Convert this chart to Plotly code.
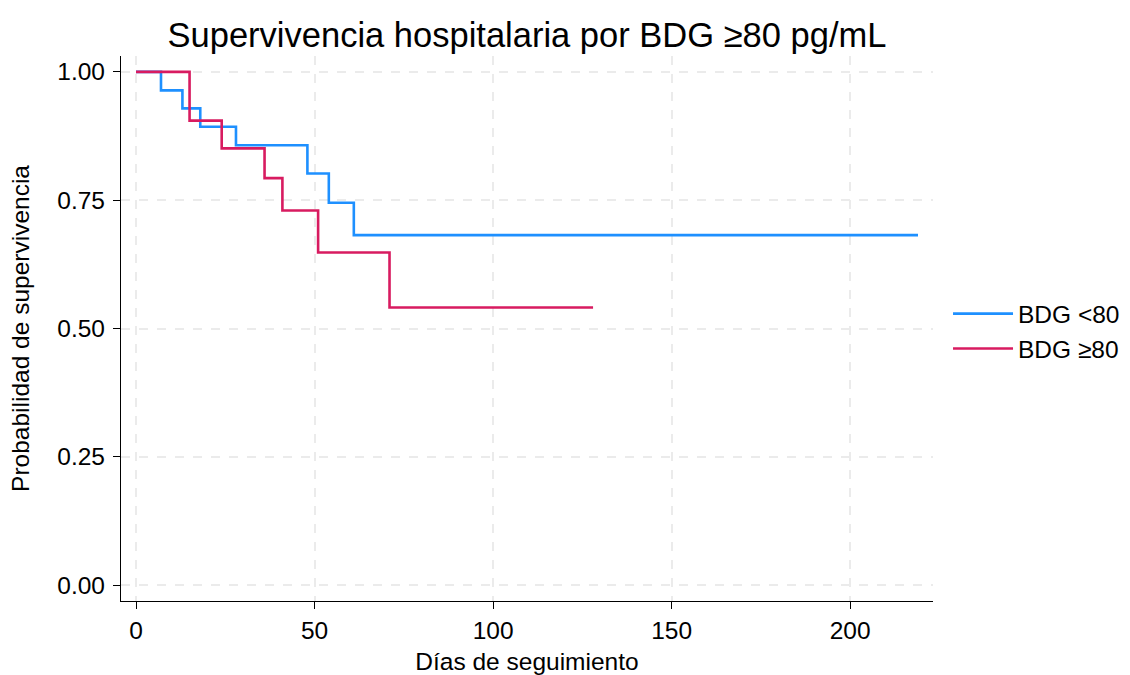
import plotly.graph_objects as go

# Kaplan-Meier step data
blue_name = "BDG <80"
blue_days = [0, 7, 13, 18, 28, 48, 54, 61, 219]
blue_surv = [1.000, 0.964, 0.929, 0.893, 0.857, 0.802, 0.745, 0.682, 0.682]

red_name = "BDG ≥80"
red_days = [0, 15, 24, 36, 41, 51, 71, 128]
red_surv = [1.000, 0.905, 0.851, 0.793, 0.730, 0.648, 0.541, 0.541]

x_ticks = [0, 50, 100, 150, 200]
y_ticks = [0.00, 0.25, 0.50, 0.75, 1.00]
y_tick_labels = ["0.00", "0.25", "0.50", "0.75", "1.00"]

FONT = "Liberation Sans, Arial, Helvetica, sans-serif"
TXT = 24.5

fig = go.Figure()
fig.add_trace(go.Scatter(x=blue_days, y=blue_surv, mode="lines", name=blue_name,
                         line=dict(color="#1E90FF", width=2.6, shape="hv")))
fig.add_trace(go.Scatter(x=red_days, y=red_surv, mode="lines", name=red_name,
                         line=dict(color="#D81B60", width=2.6, shape="hv")))

axis_common = dict(
    showline=True, linecolor="black", linewidth=1.3,
    ticks="outside", ticklen=7, tickwidth=1.3, tickcolor="black",
    showgrid=True, gridcolor="#EBEBEB", gridwidth=2, griddash="dash",
    zeroline=False, tickfont=dict(size=TXT, color="black", family=FONT),
    mirror=False, automargin=False,
)

fig.update_layout(
    width=1130, height=675, autosize=False,
    paper_bgcolor="white", plot_bgcolor="white",
    margin=dict(l=121, r=197, t=56, b=74, autoexpand=False),
    font=dict(family=FONT, color="black"),
    title=dict(text="Supervivencia hospitalaria por BDG ≥80 pg/mL",
               font=dict(size=34.5, color="black", family=FONT),
               x=0.5, xref="paper", xanchor="center",
               y=1 - 35 / 675, yref="container", yanchor="middle"),
    xaxis=dict(range=[-4.2, 223.2], tickvals=x_ticks,
               title=dict(text="Días de seguimiento", font=dict(size=TXT), standoff=10),
               **axis_common),
    yaxis=dict(range=[-0.031, 1.031], tickvals=y_ticks, ticktext=y_tick_labels,
               ticklabelstandoff=3,
               title=dict(text="Probabilidad de supervivencia", font=dict(size=TXT), standoff=20),
               **axis_common),
    legend=dict(x=1.0185, y=0.495, xanchor="left", yanchor="middle",
                font=dict(size=TXT, color="black", family=FONT),
                itemwidth=60,
                bgcolor="rgba(0,0,0,0)", tracegroupgap=4),
    showlegend=True,
)

fig.write_html("out.html")
